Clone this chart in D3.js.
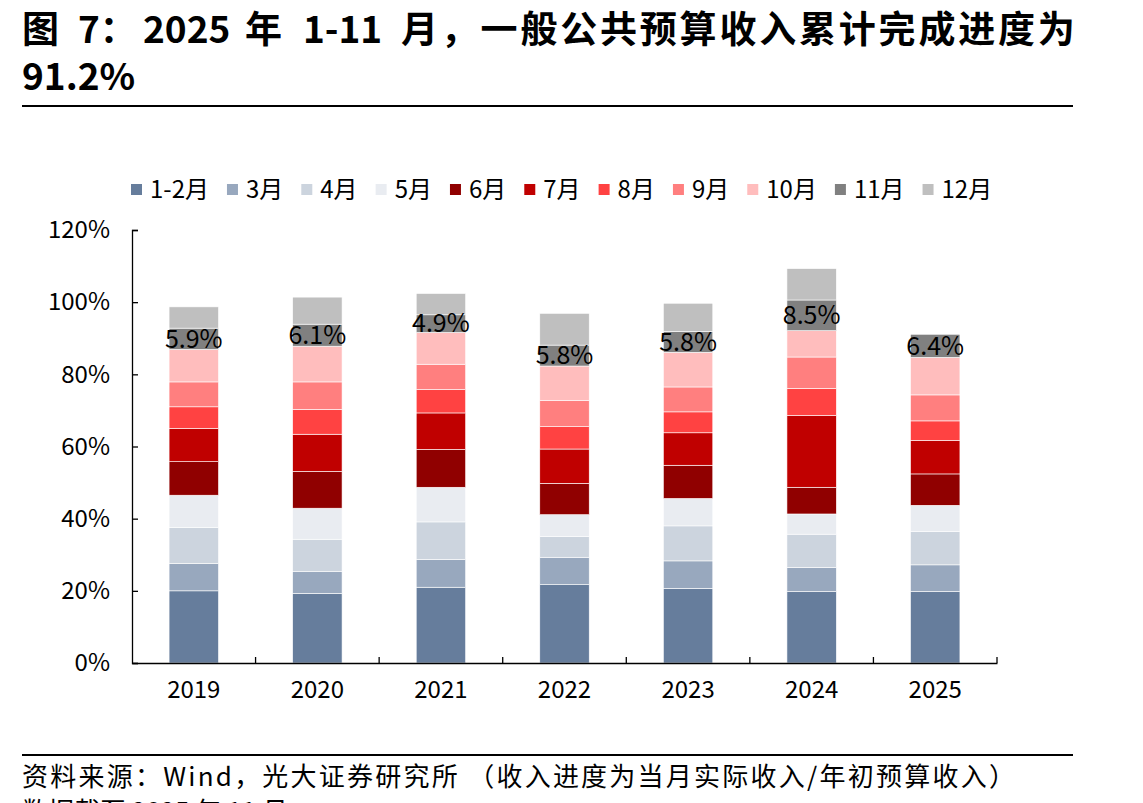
<!DOCTYPE html>
<html>
<head>
<meta charset="utf-8">
<script src="https://cdn.jsdelivr.net/npm/d3@7"></script>
<style>
  body { margin: 0; background: #fff; }
  svg text { font-family: "Noto Sans CJK SC", "Noto Sans", sans-serif; }
</style>
</head>
<body>
<script>
'use strict';

// categories and tick labels
const years = ["2019", "2020", "2021", "2022", "2023", "2024", "2025"];
const months = ["1-2月", "3月", "4月", "5月", "6月", "7月", "8月", "9月", "10月", "11月", "12月"];
const yTicks = [0, 20, 40, 60, 80, 100, 120];

// monthly share of annual budget (%), one array per month, one value per year
const m1_2 = [20.0, 19.3, 21.0, 21.7, 20.7, 19.8, 19.8];
const m3   = [7.6, 6.0, 7.7, 7.6, 7.6, 6.7, 7.4];
const m4   = [10.0, 9.0, 10.4, 5.8, 9.7, 9.2, 9.2];
const m5   = [8.9, 8.6, 9.6, 6.0, 7.6, 5.6, 7.3];
const m6   = [9.3, 10.2, 10.5, 8.7, 9.2, 7.4, 8.7];
const m7   = [9.2, 10.3, 10.1, 9.5, 9.0, 19.9, 9.3];
const m8   = [6.0, 6.9, 6.5, 6.2, 5.8, 7.5, 5.4];
const m9   = [6.9, 7.6, 7.0, 7.2, 6.9, 8.7, 7.2];
const m10  = [9.0, 9.9, 8.8, 9.6, 9.6, 7.3, 10.4];
const m11  = [5.9, 6.1, 4.9, 5.8, 5.8, 8.5, 6.4];
const m12  = [5.9, 7.5, 5.9, 8.8, 7.8, 8.7, null];

const colors = ["#667d9c", "#98a8be", "#ccd4de", "#e9ecf1", "#900000", "#c00000",
                "#ff4242", "#ff7f7f", "#ffbdbd", "#808080", "#bfbfbf"];

window.onload = function() {
  const svg = d3.select("body").append("svg")
    .attr("width", 1143)
    .attr("height", 803);

  svg.append("rect").attr("width", 1143).attr("height", 803).attr("fill", "#fff");

  // title: one text, pieces as tspans so digits stay tight and CJK gets a bit of spacing
  const title = svg.append("text")
    .style("font-size", "37px")
    .style("font-weight", "bold");
  const titleParts = [
    [22, 43, "图", 0], [78, 43, "7：", 0], [143, 43, "2025", 0], [245, 43, "年", 0],
    [303, 43, "1-11", 0], [401, 43, "月，一般公共预算收入累计完成进度为", 2.8],
    [22, 90, "91.2%", 0]
  ];
  titleParts.forEach(p => {
    title.append("tspan")
      .attr("x", p[0]).attr("y", p[1])
      .style("letter-spacing", p[3] + "px")
      .text(p[2]);
  });
  svg.append("line")
    .attr("x1", 22).attr("x2", 1073).attr("y1", 106).attr("y2", 106)
    .attr("stroke", "#000").attr("stroke-width", 2);

  // build rows for stacking
  const series = [m1_2, m3, m4, m5, m6, m7, m8, m9, m10, m11, m12];
  const rows = years.map((y, i) => {
    let row = { year: y };
    months.forEach((m, j) => { row[m] = series[j][i] || 0; });
    return row;
  });
  const stacked = d3.stack().keys(months)(rows);

  const x = d3.scaleBand()
    .domain(years)
    .range([132, 997])
    .paddingInner(0.6)
    .paddingOuter(0.3);

  const yScale = d3.scaleLinear()
    .domain([0, 120])
    .range([663, 230]);

  // bars
  stacked.forEach((layer, j) => {
    svg.append("g")
      .selectAll("rect")
      .data(layer.filter(d => d[1] > d[0]))
      .enter()
      .append("rect")
        .attr("x", d => x(d.data.year))
        .attr("y", d => yScale(d[1]))
        .attr("width", x.bandwidth())
        .attr("height", d => yScale(d[0]) - yScale(d[1]))
        .attr("fill", colors[j])
        .attr("stroke", "#fff")
        .attr("stroke-width", 0.6);
  });

  // 11月 labels
  const layer11 = stacked[months.indexOf("11月")];
  svg.append("g")
    .selectAll("text")
    .data(layer11)
    .enter()
    .append("text")
      .attr("x", d => x(d.data.year) + x.bandwidth() / 2)
      .attr("y", d => yScale((d[0] + d[1]) / 2))
      .attr("dy", "0.35em")
      .attr("text-anchor", "middle")
      .style("font-size", "25px")
      .attr("fill", "#000")
      .text((d, i) => m11[i].toFixed(1) + "%");

  // y axis, ticks pointing inward
  const yAxis = d3.axisLeft(yScale)
    .tickValues(yTicks)
    .tickSize(-6)
    .tickPadding(22)
    .tickFormat(d => d + "%");
  const gy = svg.append("g")
    .attr("transform", "translate(132,0)")
    .call(yAxis);
  gy.select(".domain").attr("stroke", "#000").attr("stroke-width", 1.3);
  gy.selectAll(".tick line").attr("stroke", "#000").attr("stroke-width", 1.3);
  gy.selectAll("text")
    .style("font-size", "24px")
    .style("font-family", "'Noto Sans CJK SC', sans-serif")
    .attr("fill", "#000");

  // x axis with ticks between categories
  const xAxis = d3.axisBottom(x).tickSize(0).tickPadding(18);
  const gx = svg.append("g")
    .attr("transform", "translate(0,663)")
    .call(xAxis);
  gx.select(".domain").attr("stroke", "#000").attr("stroke-width", 1.3);
  gx.selectAll("text")
    .style("font-size", "24px")
    .style("font-family", "'Noto Sans CJK SC', sans-serif")
    .attr("fill", "#000");
  const step = x.step();
  const bounds = years.map(y => x(y) - x.paddingOuter() * step).concat([997]);
  gx.selectAll(".sep")
    .data(bounds.slice(1))
    .enter()
    .append("line")
      .attr("x1", d => d).attr("x2", d => d)
      .attr("y1", 0).attr("y2", -6)
      .attr("stroke", "#000").attr("stroke-width", 1.3);

  // legend
  const legend = svg.append("g").attr("transform", "translate(131,190)");
  let lx = 0;
  months.forEach((m, j) => {
    legend.append("rect")
      .attr("x", lx).attr("y", -6)
      .attr("width", 11).attr("height", 11)
      .attr("fill", colors[j]);
    const t = legend.append("text")
      .attr("x", lx + 19).attr("y", 0)
      .attr("dy", "0.35em")
      .style("font-size", "24px")
      .text(m);
    lx += 19 + t.node().getComputedTextLength() + 18;
  });

  // footer
  svg.append("line")
    .attr("x1", 22).attr("x2", 1073).attr("y1", 755).attr("y2", 755)
    .attr("stroke", "#000").attr("stroke-width", 2);
  svg.append("text")
    .attr("x", 22).attr("y", 786)
    .attr("textLength", 993)
    .attr("lengthAdjust", "spacing")
    .style("font-size", "26px")
    .text("资料来源：Wind，光大证券研究所 （收入进度为当月实际收入/年初预算收入）");
  svg.append("text")
    .attr("x", 22).attr("y", 821)
    .style("font-size", "26px")
    .text("数据截至 2025 年 11 月");
};
</script>
</body>
</html>
